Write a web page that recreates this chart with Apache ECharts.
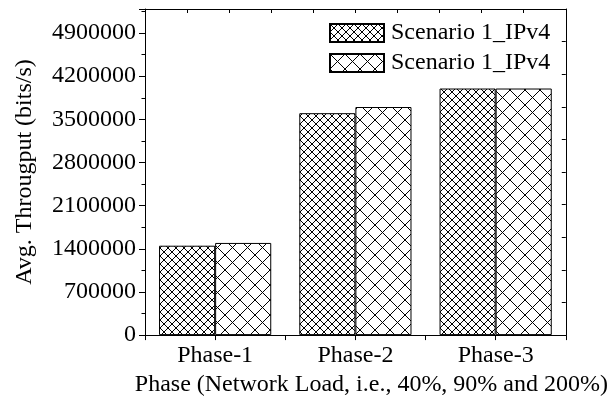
<!DOCTYPE html>
<html>
<head>
<meta charset="utf-8">
<script src="https://cdn.jsdelivr.net/npm/echarts@6/dist/echarts.min.js"></script>
<style>
html,body{margin:0;padding:0;background:#fff;}
#chart{width:611px;height:402px;}
</style>
</head>
<body>
<div id="chart"></div>
<script>
const categories = ['Phase-1', 'Phase-2', 'Phase-3'];
const seriesNames = ['Scenario 1_IPv4', 'Scenario 1_IPv4 '];
const scenarioA = [1450000, 3600000, 4000000];
const scenarioB = [1495000, 3700000, 4000000];
const yTickValues = [0, 700000, 1400000, 2100000, 2800000, 3500000, 4200000, 4900000];

const FONT = '"Liberation Serif", "Times New Roman", serif';

function hatch(p, lw) {
  const c = document.createElement('canvas');
  c.width = p; c.height = p;
  const g = c.getContext('2d');
  g.fillStyle = '#fff';
  g.fillRect(0, 0, p, p);
  g.strokeStyle = '#000';
  g.lineWidth = lw;
  for (let k = -1; k <= 1; k++) {
    g.beginPath(); g.moveTo(k * p, 0); g.lineTo(k * p + p, p); g.stroke();
    g.beginPath(); g.moveTo(k * p + p, 0); g.lineTo(k * p, p); g.stroke();
  }
  return c;
}

const patA = { image: hatch(8, 1), repeat: 'repeat' };
const patB = { image: hatch(15, 1), repeat: 'repeat' };

const chart = echarts.init(document.getElementById('chart'), null, { renderer: 'canvas' });
const black = '#000';

chart.setOption({
  animation: false,
  backgroundColor: '#fff',
  textStyle: { fontFamily: FONT, color: black },
  grid: { left: 145, right: 44, top: 9, bottom: 63, containLabel: false },
  legend: {
    orient: 'vertical',
    left: 329,
    top: 21,
    padding: 0,
    icon: 'rect',
    itemWidth: 54,
    itemHeight: 18,
    itemGap: 6,
    data: seriesNames,
    textStyle: { fontFamily: FONT, fontSize: 24, color: black, lineHeight: 24, padding: [0, 0, 0, 2] },
    formatter: function (n) { return n.trim(); }
  },
  xAxis: [
    {
      type: 'category',
      data: categories,
      position: 'bottom',
      axisLine: { show: true, onZero: false, lineStyle: { color: black, width: 1 } },
      axisTick: { show: false },
      axisLabel: { fontFamily: FONT, fontSize: 24, color: black, margin: 9 },
      splitLine: { show: false },
      name: 'Phase (Network Load, i.e., 40%, 90% and 200%)',
      nameLocation: 'middle',
      nameGap: 34,
      nameTextStyle: { fontFamily: FONT, fontSize: 24, color: black, padding: [0, 0, 0, 32] }
    },
    {
      type: 'value', position: 'bottom', min: 0, max: 6, interval: 1,
      axisLine: { show: false, onZero: false },
      axisTick: { show: true, length: 5, lineStyle: { color: black } },
      axisLabel: { show: false }, splitLine: { show: false }
    },
    {
      type: 'value', position: 'top', min: 0, max: 10, interval: 1,
      axisLine: { show: true, onZero: false, lineStyle: { color: black } },
      axisTick: { show: true, inside: true, length: 4, lineStyle: { color: black } },
      axisLabel: { show: false }, splitLine: { show: false }
    }
  ],
  yAxis: [
    {
      type: 'value', position: 'left', min: 0, max: 5290000, interval: 700000,
      axisLine: { show: true, onZero: false, lineStyle: { color: black } },
      axisTick: { show: true, length: 6, lineStyle: { color: black } },
      axisLabel: {
        fontFamily: FONT, fontSize: 24, color: black, margin: 9,
        formatter: function (v) { return yTickValues.indexOf(v) >= 0 ? String(v) : ''; }
      },
      splitLine: { show: false },
      name: 'Avg. Througput (bits/s)',
      nameLocation: 'middle',
      nameGap: 108,
      nameTextStyle: { fontFamily: FONT, fontSize: 24, color: black }
    },
    {
      type: 'value', position: 'left', min: 0, max: 5290000, interval: 350000,
      axisLine: { show: false, onZero: false },
      axisTick: { show: true, length: 3.5, lineStyle: { color: black } },
      axisLabel: { show: false }, splitLine: { show: false }
    },
    {
      type: 'value', position: 'right', min: 0, max: 10, interval: 1,
      axisLine: { show: true, onZero: false, lineStyle: { color: black } },
      axisTick: { show: true, inside: true, length: 4, lineStyle: { color: black } },
      axisLabel: { show: false }, splitLine: { show: false }
    }
  ],
  series: [
    {
      name: seriesNames[0], type: 'bar', xAxisIndex: 0, yAxisIndex: 0,
      data: scenarioA, barGap: '0%', barCategoryGap: '20%',
      itemStyle: { color: patA, borderColor: black, borderWidth: 1 }
    },
    {
      name: seriesNames[1], type: 'bar', xAxisIndex: 0, yAxisIndex: 0,
      data: scenarioB, barGap: '0%', barCategoryGap: '20%',
      itemStyle: { color: patB, borderColor: black, borderWidth: 1 }
    }
  ]
});
</script>
</body>
</html>
